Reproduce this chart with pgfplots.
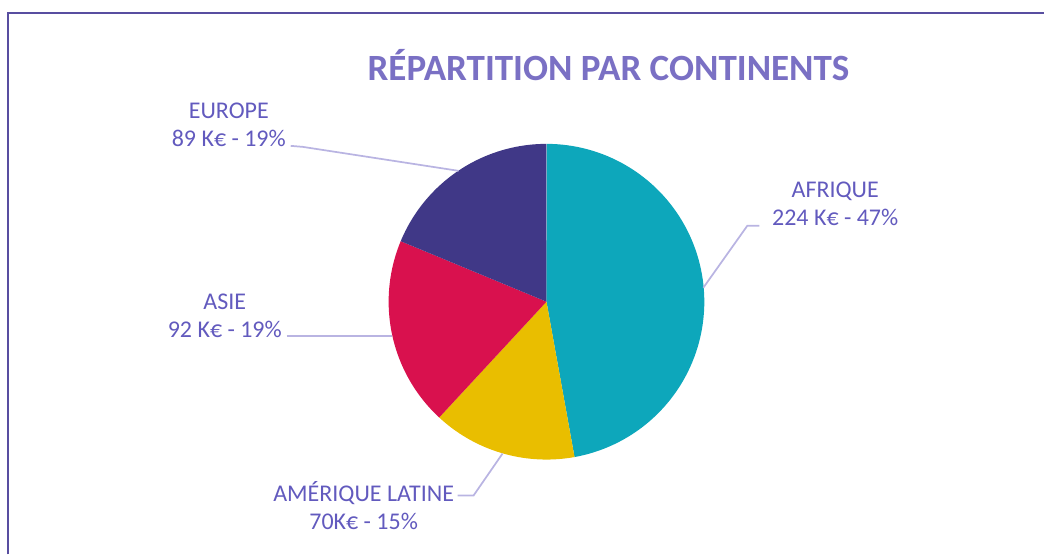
\documentclass[border=0pt]{standalone}
\usepackage{pgfplots}
\pgfplotsset{compat=1.18}
\usepackage{fontspec}
\setmainfont{Carlito}
\definecolor{afr}{RGB}{13,167,187}
\definecolor{ame}{RGB}{233,190,0}
\definecolor{asi}{RGB}{217,17,78}
\definecolor{eur}{RGB}{64,56,135}
\definecolor{titlec}{RGB}{122,112,196}
\definecolor{labc}{RGB}{98,90,190}
\definecolor{leadc}{RGB}{185,180,226}
\definecolor{framec}{RGB}{88,78,160}
% values (K€)
\def\vA{224}\def\vB{70}\def\vC{92}\def\vD{89}%
\pgfmathsetmacro{\tot}{\vA+\vB+\vC+\vD}%
\pgfmathsetmacro{\aA}{90}%
\pgfmathsetmacro{\aB}{\aA-360*(\vA/\tot)}%
\pgfmathsetmacro{\aC}{\aB-360*(\vB/\tot)}%
\pgfmathsetmacro{\aD}{\aC-360*(\vC/\tot)}%
\pgfmathsetmacro{\aE}{\aD-360*(\vD/\tot)}%
\def\cx{547}\def\cy{302}\def\pr{158}%
\begin{document}%
\begin{tikzpicture}
\begin{axis}[width=783.75pt,height=416.25pt,scale only axis,
  xmin=0,xmax=1045,ymin=0,ymax=555,y dir=reverse,hide axis,clip=false]
\path (axis cs:0,0) rectangle (axis cs:1045,555);
\addplot[fill=afr,draw=none,domain=\aB:\aA,samples=90] ({\cx+\pr*cos(x)},{\cy-\pr*sin(x)}) -- (axis cs:547,302) -- cycle;
\addplot[fill=ame,draw=none,domain=\aC:\aB,samples=40] ({\cx+\pr*cos(x)},{\cy-\pr*sin(x)}) -- (axis cs:547,302) -- cycle;
\addplot[fill=asi,draw=none,domain=\aD:\aC,samples=50] ({\cx+\pr*cos(x)},{\cy-\pr*sin(x)}) -- (axis cs:547,302) -- cycle;
\addplot[fill=eur,draw=none,domain=\aE:\aD,samples=50] ({\cx+\pr*cos(x)},{\cy-\pr*sin(x)}) -- (axis cs:547,302) -- cycle;
% frame
\draw[framec,line width=1.5pt] (axis cs:8.5,555) -- (axis cs:8.5,13.5) -- (axis cs:1045,13.5);
% title
\node[text=titlec,font=\fontsize{27.8}{33}\selectfont\bfseries] at (axis cs:609,65) {RÉPARTITION PAR CONTINENTS};
% leader lines
\draw[leadc,line width=1.3pt] (axis cs:291,146) -- (axis cs:303,147) -- (axis cs:459,171);
\draw[leadc,line width=1.3pt] (axis cs:760,226) -- (axis cs:748,226) -- (axis cs:704,288);
\draw[leadc,line width=1.3pt] (axis cs:287,336) -- (axis cs:392,336);
\draw[leadc,line width=1.3pt] (axis cs:458,496) -- (axis cs:474,496) -- (axis cs:503,454);
% labels
\tikzset{lab/.style={text=labc,font=\fontsize{18}{21}\selectfont,align=center}}
\node[lab] at (axis cs:229,125) {EUROPE\\89 K€ - 19\%};
\node[lab] at (axis cs:836,204) {AFRIQUE\\224 K€ - 47\%};
\node[lab] at (axis cs:225,316) {ASIE\\92 K€ - 19\%};
\node[lab] at (axis cs:364,506) {AMÉRIQUE LATINE\\70K€ - 15\%};
\end{axis}
\end{tikzpicture}%
\end{document}
